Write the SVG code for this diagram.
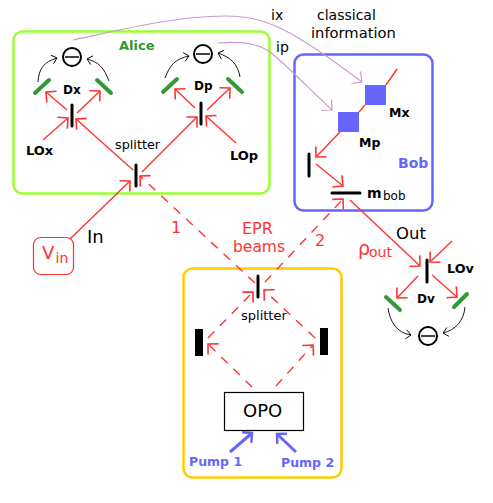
<svg xmlns="http://www.w3.org/2000/svg" width="493" height="503" viewBox="0 0 493 503">
<style>
text{font-family:"DejaVu Sans","Liberation Sans",sans-serif;font-size:12px;fill:#000}
.b{font-weight:bold}
.r{fill:#ff3333}
.box{fill:none;stroke-width:2.5}
.bs{stroke:#000;stroke-width:3;stroke-linecap:round;fill:none}
.gm{stroke:#339933;stroke-width:4;stroke-linecap:round;fill:none}
.det{fill:#fff;stroke:#000;stroke-width:2}
.a{stroke:#ff3333;stroke-width:1.4;fill:none;marker-end:url(#ar)}
.p{stroke:#ff3333;stroke-width:1.4;fill:none}
.d{stroke-dasharray:9 8}
.k{stroke:#000;stroke-width:0.9;fill:none;marker-end:url(#ak)}
.l{stroke:#cc99cc;stroke-width:1.2;fill:none;marker-end:url(#al)}
.u{stroke:#6666ff;stroke-width:3;fill:none;marker-end:url(#au)}
</style>
<defs>
<marker id="ar" markerUnits="userSpaceOnUse" markerWidth="24" markerHeight="24" refX="12" refY="12" orient="auto" overflow="visible"><path d="M4.500 4.500L12 12L4.500 19.500" fill="none" stroke="#ff3333" stroke-width="1.6"/></marker>
<marker id="ak" markerUnits="userSpaceOnUse" markerWidth="16" markerHeight="16" refX="8" refY="8" orient="auto" overflow="visible"><path d="M3 3.500L8 8L3 12.500" fill="none" stroke="#000" stroke-width="0.9"/></marker>
<marker id="al" markerUnits="userSpaceOnUse" markerWidth="24" markerHeight="24" refX="12" refY="12" orient="auto" overflow="visible"><path d="M4.500 4.500L12 12L4.500 19.500" fill="none" stroke="#cc99cc" stroke-width="1.2"/></marker>
<marker id="au" markerUnits="userSpaceOnUse" markerWidth="24" markerHeight="24" refX="12" refY="12" orient="auto" overflow="visible"><path d="M5 5L12 12L5 19" fill="none" stroke="#6666ff" stroke-width="2.500"/></marker>
</defs>

<g id="alice"><rect class="box" x="13.500" y="31.500" width="256" height="162" rx="9" stroke="#99ff33"/>
<text x="119" y="50" class="b" style="font-size:13px;fill:#339933">Alice</text></g>
<g id="bob"><rect class="box" x="294.500" y="54.500" width="138" height="156" rx="9" stroke="#6666ff"/>
<text x="398" y="168" class="b" style="font-size:14px;fill:#6666ff">Bob</text></g>
<g id="source"><rect class="box" x="183.500" y="268.500" width="158" height="209" rx="9" stroke="#ffcc00"/></g>

<g id="connectors">
<path class="a" d="M133 170L76 119"/><path class="a" d="M142 172L197 117"/>
<path class="a" d="M43 140L68 118"/><path class="a" d="M236 143L206 116"/>
<path class="a" d="M67 110L46 92"/><path class="a" d="M77 113L100 91"/>
<path class="a" d="M195 108L175 89"/><path class="a" d="M207 110L230 88"/>
<path class="a" d="M70 239L130 181"/>
<path class="a d" d="M255 283L140 176"/>
<path class="a d" d="M265 282L343 199"/>
<path class="a" d="M350 200L420 266"/>
<path class="a d" d="M252 387L208 344"/><path class="a d" d="M276 386L313 345"/>
<path class="a d" d="M208 338L253 292"/><path class="a d" d="M315 338L264 290"/>
<path class="p" d="M397 69L386 85M365 105L359 112"/>
<path class="a" d="M340 132L316 157"/><path class="a" d="M316 164L343 186"/>
<path class="a" d="M452 241L430 262"/><path class="a" d="M418 276L397 298"/><path class="a" d="M432 275L457 297"/>
<path class="u" d="M230 452L252 433"/><path class="u" d="M296 452L277 434"/>
<path class="k" d="M38 82C39 68 44 62 57 58"/><path class="k" d="M109 81C104 68 99 62 87 59"/>
<path class="k" d="M165 78C170 65 175 59 189 56"/><path class="k" d="M240 77C238 64 230 57 218 53"/>
<path class="k" d="M388 308C390 322 397 333 411 335"/><path class="k" d="M465 307C464 320 456 330 443 333"/>
<path class="l" d="M73 40C120 30 175 16 225 16C265 16 290 28 362 82"/>
<path class="l" d="M218 43C245 41 258 44 270 52C290 68 310 90 332 110"/>
</g>

<g id="Dx"><path class="bs" d="M72 105V126"/><path class="gm" d="M35 93L49 80"/><path class="gm" d="M97 80L111 93"/>
<circle class="det" cx="72" cy="57" r="9"/><path d="M65 57H79" stroke="#000" stroke-width="1.500"/>
<text x="63" y="94" class="b">Dx</text><text x="26" y="155" class="b" style="font-size:13px">LOx</text></g>
<g id="Dp"><path class="bs" d="M201 103V124"/><path class="gm" d="M163 92L177 79"/><path class="gm" d="M228 79L242 92"/>
<circle class="det" cx="203" cy="54" r="9"/><path d="M196 54H210" stroke="#000" stroke-width="1.500"/>
<text x="194" y="90" class="b">Dp</text><text x="230" y="160" class="b" style="font-size:13px">LOp</text></g>
<g id="splitterA"><path class="bs" d="M136 165V186"/><text x="115" y="149" style="font-size:12.800px">splitter</text></g>
<g id="vin"><rect x="33.500" y="237.500" width="40" height="37" rx="7" fill="none" stroke="#ff3333" stroke-width="1.200"/>
<text x="42" y="259" class="r" style="font-size:18px">V</text><text x="55.500" y="263" class="r" style="font-size:14px">in</text></g>
<text id="inlabel" x="87" y="243" style="font-size:18px">In</text>
<text x="311" y="38" style="font-size:14.700px">information</text>
<text x="317" y="20" style="font-size:14px">classical</text>
<text x="271" y="20" style="font-size:14px">ix</text><text x="276" y="52" style="font-size:14px">ip</text>
<text x="171" y="233" class="r" style="font-size:16px">1</text><text x="315" y="246" class="r" style="font-size:16px">2</text>
<text x="242" y="234" class="r" style="font-size:16px">EPR</text><text x="233" y="252" class="r" style="font-size:15.500px">beams</text>
<g id="Mx"><rect x="365" y="85" width="21" height="20" fill="#6666ff"/><text x="389" y="117" class="b" style="font-size:12.500px">Mx</text></g>
<g id="Mp"><rect x="338" y="112" width="21" height="20" fill="#6666ff"/><text x="359" y="147" class="b" style="font-size:12.500px">Mp</text></g>
<g id="mirrorB"><path class="bs" d="M309 154V176"/></g>
<g id="mbob"><path class="bs" d="M332 193H360"/><text x="367" y="198" class="b" style="font-size:14px">m</text><text x="383" y="200" style="font-size:12px">bob</text></g>
<text x="396" y="239" style="font-size:16.500px">Out</text>
<text x="358" y="255" class="r" style="font-size:19px">ρ</text><text x="369" y="257" class="r" style="font-size:14px">out</text>
<g id="Dv"><path class="bs" d="M427 260V282"/><path class="gm" d="M386 297L400 310"/><path class="gm" d="M454 307L467 294"/>
<circle class="det" cx="428" cy="336" r="9"/><path d="M421 336H435" stroke="#000" stroke-width="1.500"/>
<text x="417" y="303" class="b">Dv</text><text x="447" y="273" class="b" style="font-size:12.800px">LOv</text></g>
<g id="splitterP"><path class="bs" d="M258 276V297"/><text x="241" y="320" style="font-size:13px">splitter</text></g>
<rect id="mirrorL" x="195" y="329" width="8" height="27"/>
<rect id="mirrorR" x="320" y="328" width="8" height="27"/>
<g id="OPO"><rect x="224.500" y="392.500" width="79" height="38" fill="#fff" stroke="#000" stroke-width="1.200"/><text x="243" y="417" style="font-size:18px">OPO</text></g>
<text id="pump1" x="189" y="466" class="b" style="font-size:12.500px;fill:#6666ff">Pump 1</text>
<text id="pump2" x="281" y="467" class="b" style="font-size:12.500px;fill:#6666ff">Pump 2</text>
</svg>
